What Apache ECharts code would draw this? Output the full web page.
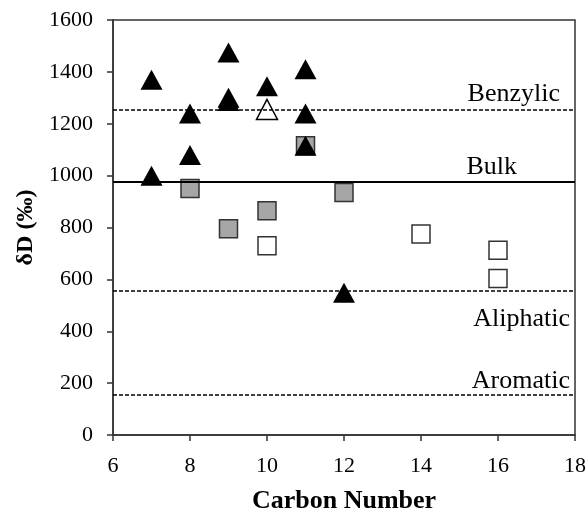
<!DOCTYPE html>
<html>
<head>
<meta charset="utf-8">
<script src="https://cdn.jsdelivr.net/npm/echarts@6/dist/echarts.min.js"></script>
<style>
  html, body { margin: 0; padding: 0; background: #fff; }
  #chart { width: 587px; height: 513px; }
</style>
</head>
<body>
<div id="chart"></div>
<script>
// [carbon number, dD]
const filledTriangles = [
  [7, 1370], [7, 1000], [8, 1240], [8, 1080], [9, 1475], [9, 1300], [9, 1288],
  [10, 1345], [11, 1410], [11, 1240], [11, 1115], [12, 548]
];
const openTriangles = [[10, 1255]];
const graySquares = [[8, 950], [9, 795], [10, 865], [11, 1115], [12, 935]];
const openSquares = [[10, 730], [14, 775], [16, 712], [16, 603]];

const refNames = ["Benzylic", "Bulk", "Aliphatic", "Aromatic"];
const refValues = [1255, 975, 555, 155];

const serif = "Liberation Serif";

const chart = echarts.init(document.getElementById("chart"));

const refLines = refNames.map((name, i) => {
  const below = name === "Aliphatic";
  const dx = name === "Bulk" ? 58 : name === "Benzylic" ? 15 : 5;
  const dy = below ? 15 : name === "Aromatic" ? 1 : 2;
  return {
    yAxis: refValues[i],
    lineStyle: {
      color: "#000",
      width: name === "Bulk" ? 2 : 1.5,
      type: name === "Bulk" ? "solid" : [4, 2],
    },
    label: {
      show: true,
      formatter: name,
      position: below ? "insideEndBottom" : "insideEndTop",
      distance: [dx, dy],
      fontFamily: serif,
      fontSize: 26,
      color: "#000",
    },
  };
});

chart.setOption({
  animation: false,
  grid: {
    left: 113,
    right: 12,
    top: 20,
    bottom: 78,
    outerBoundsMode: "none",
    containLabel: false,
    show: true,
    borderColor: "#333",
    borderWidth: 1.5,
  },
  xAxis: {
    type: "value",
    min: 6,
    max: 18,
    interval: 2,
    name: "Carbon Number",
    nameLocation: "middle",
    nameGap: 53,
    nameTextStyle: { fontFamily: serif, fontSize: 26, fontWeight: "bold", color: "#000" },
    axisLine: { lineStyle: { color: "#333", width: 1.5 } },
    axisTick: { show: true, length: 6, lineStyle: { color: "#333", width: 1.5 } },
    axisLabel: { fontFamily: serif, fontSize: 22, color: "#000", margin: 20 },
    splitLine: { show: false },
  },
  yAxis: {
    type: "value",
    min: 0,
    max: 1600,
    interval: 200,
    name: "\u03b4D (\u2030)",
    nameLocation: "middle",
    nameGap: 74,
    nameTextStyle: { fontFamily: serif, fontSize: 24, fontWeight: "bold", color: "#000" },
    axisLine: { show: true, lineStyle: { color: "#333", width: 1.5 } },
    axisTick: { show: true, length: 6, lineStyle: { color: "#333", width: 1.5 } },
    axisLabel: { fontFamily: serif, fontSize: 22, color: "#000", margin: 20, formatter: (v) => String(v) },
    splitLine: { show: false },
  },
  series: [
    {
      type: "scatter",
      data: graySquares,
      symbol: "rect",
      symbolSize: 18,
      itemStyle: { color: "#a6a6a6", borderColor: "#333", borderWidth: 1.5, opacity: 1 },
      markLine: {
        silent: true,
        symbol: "none",
        data: refLines,
      },
    },
    {
      type: "scatter",
      data: openSquares,
      symbol: "rect",
      symbolSize: 18,
      itemStyle: { color: "#fff", borderColor: "#333", borderWidth: 1.5, opacity: 1 },
    },
    {
      type: "scatter",
      data: openTriangles,
      symbol: "triangle",
      symbolSize: [21, 20],
      itemStyle: { color: "#fff", borderColor: "#000", borderWidth: 1.5, opacity: 1 },
    },
    {
      type: "scatter",
      data: filledTriangles,
      symbol: "triangle",
      symbolSize: [22, 20],
      itemStyle: { color: "#000", opacity: 1 },
    },
  ],
});
</script>
</body>
</html>
